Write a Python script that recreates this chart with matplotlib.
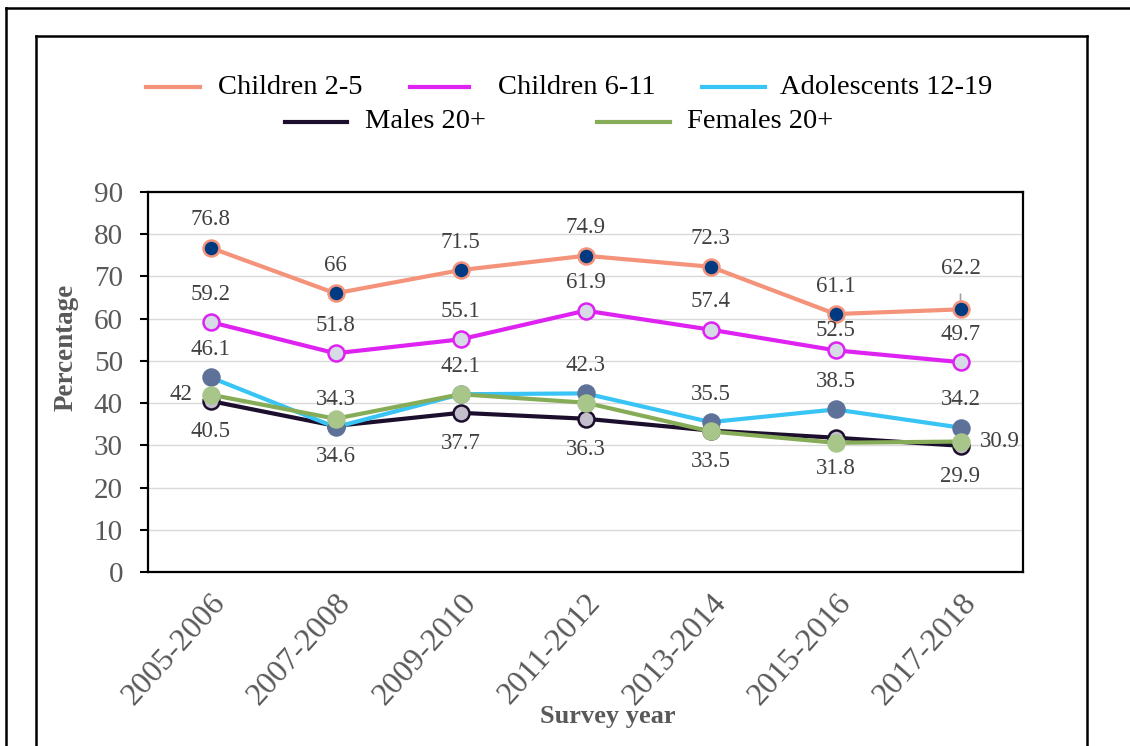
import matplotlib
matplotlib.use("Agg")
import matplotlib.pyplot as plt
from matplotlib.lines import Line2D

plt.rcParams['font.family'] = ['Liberation Serif', 'DejaVu Serif']

categories = ["2005-2006", "2007-2008", "2009-2010", "2011-2012", "2013-2014", "2015-2016", "2017-2018"]
children_2_5 = [76.8, 66, 71.5, 74.9, 72.3, 61.1, 62.2]
children_6_11 = [59.2, 51.8, 55.1, 61.9, 57.4, 52.5, 49.7]
adolescents = [46.1, 34.3, 42.1, 42.3, 35.5, 38.5, 34.2]
males = [40.5, 34.6, 37.7, 36.3, 33.5, 31.8, 29.9]
females = [42, 36.3, 42.1, 40.1, 33.3, 30.6, 30.9]
series_names = ["Children 2-5", "Children 6-11", "Adolescents 12-19", "Males 20+", "Females 20+"]

W, H = 1130, 746
fig = plt.figure(figsize=(W / 100, H / 100), dpi=100)
ax = fig.add_axes([148 / W, 1 - 572 / H, (1023 - 148) / W, (572 - 192) / H])

x = list(range(len(categories)))
label_color = "#404040"
lfs = 16.5

styles = [
    dict(data=children_2_5, color="#F4937A", mfc="#003A80", mec="#F4937A", pos="above"),
    dict(data=children_6_11, color="#DD22F2", mfc="#D6DCE5", mec="#DD22F2", pos="above"),
    dict(data=adolescents, color="#38C4F4", mfc="#5E7299", mec="#5E7299", pos="above"),
    dict(data=males, color="#1C0F2E", mfc="#C3BECB", mec="#1C0F2E", pos="below"),
    dict(data=females, color="#86AC57", mfc="#A9C68A", mec="#A9C68A", pos=None),
]

zorders = [5, 5, 4, 3, 4]
for s, z in zip(styles, zorders):
    ax.plot(x, s["data"], color=s["color"], lw=3.0, marker="o", ms=11.5,
            mfc=s["mfc"], mec=s["mec"], mew=1.8, zorder=z, clip_on=False)

# data labels
for si, s in enumerate(styles[:4]):
    for i, v in enumerate(s["data"]):
        if s["pos"] == "above":
            if si == 0 and i == 6:
                ax.annotate(f"{v:g}", xy=(i, v), xytext=(0, 29.5), textcoords="offset points",
                            ha="center", va="center", fontsize=lfs, color=label_color,
                            arrowprops=dict(arrowstyle="-", color="#A0A0A0", lw=1.2,
                                            shrinkA=9, shrinkB=1))
            elif si == 1 and i == 5:
                ax.annotate(f"{v:g}", xy=(i, v), xytext=(0, 14), textcoords="offset points",
                            ha="center", va="center", fontsize=lfs, color=label_color,
                            zorder=6)
            else:
                ax.annotate(f"{v:g}", xy=(i, v), xytext=(0, 20), textcoords="offset points",
                            ha="center", va="center", fontsize=lfs, color=label_color)
        else:
            ax.annotate(f"{v:g}", xy=(i, v), xytext=(0, -22), textcoords="offset points",
                        ha="center", va="center", fontsize=lfs, color=label_color)

ax.annotate(f"{females[0]:g}", xy=(0, females[0]), xytext=(-13, 0), textcoords="offset points",
            ha="right", va="center", fontsize=lfs, color=label_color)
ax.annotate(f"{females[-1]:g}", xy=(6, females[-1]), xytext=(14, 0), textcoords="offset points",
            ha="left", va="center", fontsize=lfs, color=label_color)

ax.set_xlim(-0.5, 6.5)
ax.set_ylim(0, 90)
ax.set_yticks(range(0, 91, 10))
ax.grid(axis="y", color="#D9D9D9", lw=1.0)
ax.set_axisbelow(True)
ax.set_xticks(x)
ax.set_xticklabels(categories, rotation=48, ha="right", rotation_mode="anchor",
                   fontsize=23, color="#595959")
ax.tick_params(axis="x", length=0, pad=12)
ax.tick_params(axis="y", length=6, width=1.5, color="black", labelsize=21,
               labelcolor="#595959", pad=12, direction="out")
for sp in ax.spines.values():
    sp.set_color("black")
    sp.set_linewidth(1.6)
fig.text(66 / W, 1 - 347 / H, "Percentage", ha="center", va="center", rotation=90,
         fontsize=19.5, fontweight="bold", color="#595959")
fig.text(608 / W, 1 - 716 / H, "Survey year", ha="center", va="center",
         fontsize=19, fontweight="bold", color="#595959")

# legend (manual)
leg = [
    (146, 200, 218, 87, 0), (410, 469, 498, 87, 1), (702, 765, 780, 87, 2),
    (285, 347, 365, 122, 3), (597, 670, 687, 122, 4),
]
for x0, x1, xt, yy, k in leg:
    fig.add_artist(Line2D([x0 / W, x1 / W], [1 - yy / H, 1 - yy / H],
                          color=styles[k]["color"], lw=3.0, transform=fig.transFigure))
    fig.text(xt / W, 1 - yy / H, series_names[k], ha="left", va="center",
             fontsize=20.5, color="black")

# frames
def fl(xs, ys, lw=1.8):
    fig.add_artist(Line2D([v / W for v in xs], [1 - v / H for v in ys], color="black",
                          lw=lw, transform=fig.transFigure, solid_capstyle="projecting"))

fl([6, 6], [746, 8])
fl([6, 1130], [8, 8])
fl([36, 36], [746, 36])
fl([36, 1087], [36, 36])
fl([1087, 1087], [36, 746])

fig.savefig("out.png", dpi=100)
